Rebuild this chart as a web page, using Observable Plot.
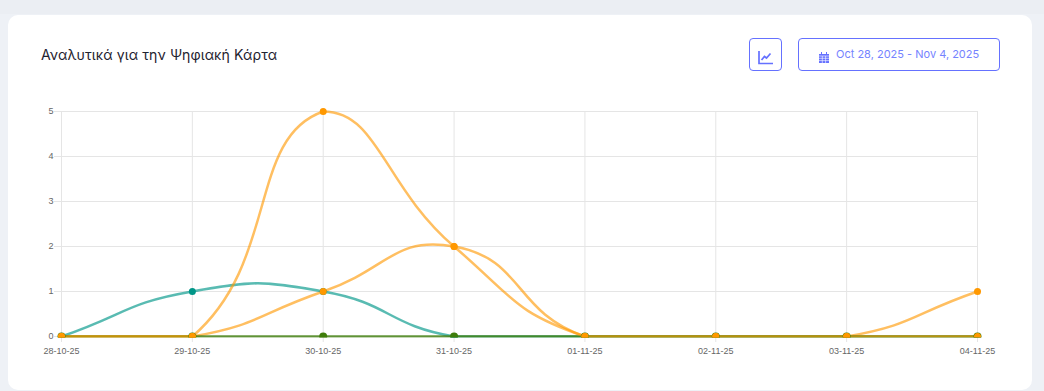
<!DOCTYPE html>
<html><head><meta charset="utf-8">
<script src="https://cdn.jsdelivr.net/npm/d3@7"></script>
<script src="https://cdn.jsdelivr.net/npm/@observablehq/plot@0.6"></script>
<style>
html,body{margin:0;padding:0;width:1044px;height:391px;overflow:hidden;background:#eef1f6}
#top{position:absolute;left:0;top:0;width:1044px;height:14px;background:#ebeef3}
#card{position:absolute;left:8px;top:15px;width:1024px;height:375px;background:#fff;border-radius:10px}
#title{position:absolute;left:41px;top:45px;font:14.1px "Inter","Noto Sans",sans-serif;color:#1f2330;letter-spacing:.1px;line-height:20px;white-space:nowrap}
.btn{position:absolute;top:38px;height:31px;border:1px solid #6571ff;border-radius:4px;box-sizing:content-box;color:#6571ff;background:#fff}
#b1{left:749px;width:31px}
#b2{left:798px;width:200px;font:11px "Inter","Noto Sans",sans-serif;line-height:31px}
#b2 span{position:absolute;left:37px;top:0;white-space:nowrap;color:#7583ff}
#b2 svg{position:absolute;left:20px;top:13px}
#b1 svg{position:absolute;left:8px;top:12px}
#chart{position:absolute;left:0;top:0}
</style></head><body>
<div id="top"></div><div id="card"></div>
<div id="title">Αναλυτικά για την Ψηφιακή Κάρτα</div>
<div class="btn" id="b1"><svg width="16" height="14" viewBox="0 0 16 14" fill="none" stroke="#6571ff" stroke-width="1.7"><path d="M1 0v12.5h14"/><path d="M3.5 9l3-3.5 2 1.5 4-4.5" stroke-width="1.7"/></svg></div>
<div class="btn" id="b2"><svg width="10" height="11" viewBox="0 0 10 11"><path fill="#6571ff" d="M0 2h10v9H0z"/><path fill="#6571ff" d="M2 0h1v2H2zM7 0h1v2H7z"/><path stroke="#fff" stroke-width=".6" d="M0 4h10M0 6.3h10M0 8.6h10M3.3 4v7M6.6 4v7"/></svg><span>Oct 28, 2025 - Nov 4, 2025</span></div>
<div id="chart"></div>
<script>
const labels = ["28-10-25","29-10-25","30-10-25","31-10-25","01-11-25","02-11-25","03-11-25","04-11-25"];
const teal = [0,1,1,0,0,0,0,0];
const orangeA = [0,0,5,2,0,0,0,0];
const orangeB = [0,0,1,2,0,0,0,1];
const green = [0,0,0,0,0,0,0,0];
const yTicks = [0,1,2,3,4,5];
const lineOrder = [
  {values:orangeB, color:"#ff9800", opacity:.62},
  {values:teal, color:"#009688", opacity:.65},
  {values:green, color:"#3f7d0b", opacity:.8},
  {values:orangeA, color:"#ff9800", opacity:.62}
];
const dotOrder = [
  {values:teal, color:"#009688", r:3.5},
  {values:green, color:"#3f7d0b", r:4},
  {values:orangeB, color:"#ff9800", r:3.5},
  {values:orangeA, color:"#ff9800", r:3.5}
];
const W=1044,H=391,ML=61,MR=67,MT=111,MB=55;
// Spline with tension 0.5 whose control points stay inside the plot area
function splineCurve(context){
  let pts=[];
  const cap=p=>[Math.min(Math.max(p[0],ML),W-MR),Math.min(Math.max(p[1],MT),H-MB)];
  return {
    areaStart(){},areaEnd(){},
    lineStart(){pts=[];},
    point(x,y){pts.push([+x,+y]);},
    lineEnd(){
      const t=0.5,n=pts.length;
      const cps=pts.map((p,i)=>{
        const a=pts[Math.max(i-1,0)],b=pts[Math.min(i+1,n-1)];
        const d01=Math.hypot(p[0]-a[0],p[1]-a[1]),d12=Math.hypot(b[0]-p[0],b[1]-p[1]);
        const s=d01+d12||1;
        const fa=t*d01/s,fb=t*d12/s;
        return {p:cap([p[0]-fa*(b[0]-a[0]),p[1]-fa*(b[1]-a[1])]),n:cap([p[0]+fb*(b[0]-a[0]),p[1]+fb*(b[1]-a[1])])};
      });
      context.moveTo(pts[0][0],pts[0][1]);
      for(let i=1;i<n;i++) context.bezierCurveTo(cps[i-1].n[0],cps[i-1].n[1],cps[i].p[0],cps[i].p[1],pts[i][0],pts[i][1]);
    }
  };
}
// Clip marks at the bottom edge of the plot, as the original does
let clipCount=0;
function clipBottom(index,scales,values,dimensions,context,next){
  const g=next(index,scales,values,dimensions,context);
  const id="bottomclip"+(clipCount++);
  const ns="http://www.w3.org/2000/svg";
  const cp=document.createElementNS(ns,"clipPath");cp.setAttribute("id",id);
  const r=document.createElementNS(ns,"rect");
  r.setAttribute("x",0);r.setAttribute("y",0);r.setAttribute("width",dimensions.width);
  r.setAttribute("height",dimensions.height-dimensions.marginBottom+1.5);
  cp.append(r);
  const wrap=document.createElementNS(ns,"g");wrap.setAttribute("clip-path",`url(#${id})`);
  wrap.append(cp,g);
  return wrap;
}
const rows = s => s.values.map((v,i)=>({label:labels[i],value:v}));
const marks = [
  Plot.gridX(labels,{x:d=>d,stroke:"#e5e5e5",strokeOpacity:1,strokeWidth:1}),
  Plot.gridY(yTicks,{y:d=>d,stroke:"#e5e5e5",strokeOpacity:1,strokeWidth:1}),
  Plot.axisX(labels,{tickSize:6,tickPadding:5,stroke:"#e5e5e5",strokeOpacity:1,fill:"#666",fontSize:9}),
  Plot.axisY(yTicks,{tickSize:7,tickPadding:1,stroke:"#e5e5e5",strokeOpacity:1,fill:"#666",fontSize:9,tickFormat:d=>d})
];
for(const s of lineOrder){
  marks.push(Plot.line(rows(s),{x:"label",y:"value",stroke:s.color,strokeOpacity:s.opacity,strokeWidth:2.5,curve:splineCurve,render:clipBottom}));
}
for(const s of dotOrder){
  marks.push(Plot.dot(rows(s),{x:"label",y:"value",fill:s.color,r:s.r,render:clipBottom}));
}
const chart = Plot.plot({
  width:W,height:H,marginLeft:ML,marginRight:MR,marginTop:MT,marginBottom:MB,
  style:{background:"transparent",fontFamily:"'Liberation Sans',Arial,sans-serif",fontSize:"9px",overflow:"visible"},
  x:{type:"point",domain:labels,label:null,padding:0,round:false},
  y:{domain:[0,5],label:null},
  marks
});
document.getElementById("chart").append(chart);
</script>
</body></html>
